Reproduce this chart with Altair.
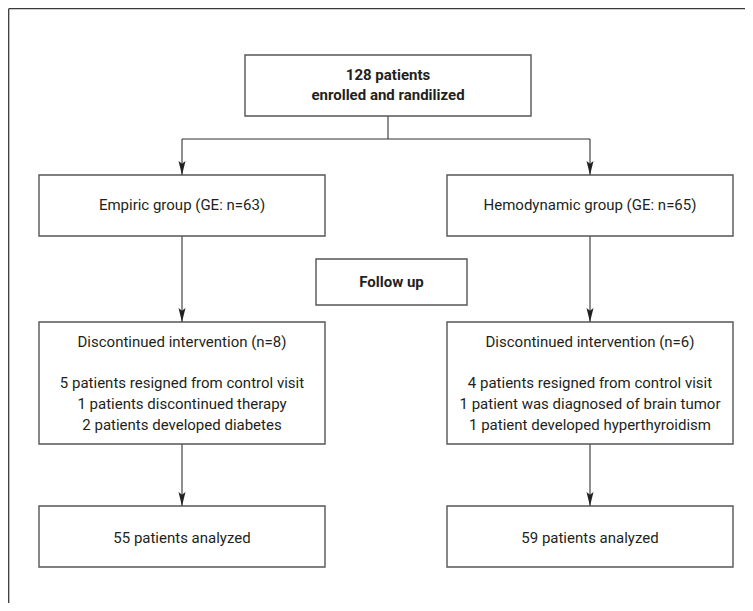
import altair as alt
import pandas as pd

# ---- content -------------------------------------------------------------
box_ids = ["top", "empiric", "hemo", "follow", "discL", "discR", "anaL", "anaR"]
box_lines = [
    ["128 patients", "enrolled and randilized"],
    ["Empiric group (GE: n=63)"],
    ["Hemodynamic group (GE: n=65)"],
    ["Follow up"],
    ["Discontinued intervention (n=8)", "", "5 patients resigned from control visit",
     "1 patients discontinued therapy", "2 patients developed diabetes"],
    ["Discontinued intervention (n=6)", "", "4 patients resigned from control visit",
     "1 patient was diagnosed of brain tumor", "1 patient developed hyperthyroidism"],
    ["55 patients analyzed"],
    ["59 patients analyzed"],
]
box_bold = [True, False, False, True, False, False, False, False]

# ---- layout (screen pixels) ----------------------------------------------
box_x1 = [245, 39, 447, 316, 39, 447, 39, 447]
box_x2 = [531, 325, 733, 467, 325, 733, 325, 733]
box_y1 = [55, 175, 175, 259, 322, 322, 506, 506]
box_y2 = [116, 236, 236, 305, 444, 444, 567, 567]
line_first_y = [75, 205, 205, 282, 342, 342, 538, 538]
line_step = [20, 0, 0, 0, 20.7, 20.7, 0, 0]

conn_x1 = [388, 182, 182, 590, 182, 590, 182, 590]
conn_x2 = [388, 590, 182, 590, 182, 590, 182, 590]
conn_y1 = [116, 139, 139, 139, 236, 236, 444, 444]
conn_y2 = [139, 139, 175, 175, 322, 322, 506, 506]

tip_x = [182, 590, 182, 590, 182, 590]
tip_y = [175, 175, 322, 322, 506, 506]

frame_x1 = [8.7, 8.7]
frame_x2 = [760, 8.7]
frame_y1 = [8.7, 8.7]
frame_y2 = [8.7, 620]

# ---- tables ---------------------------------------------------------------
boxes = pd.DataFrame({"id": box_ids, "x1": box_x1, "x2": box_x2,
                      "y1": box_y1, "y2": box_y2})
rows = []
for i, lines in enumerate(box_lines):
    cx = (box_x1[i] + box_x2[i]) / 2
    for j, t in enumerate(lines):
        if t:
            rows.append({"t": t, "x": cx, "y": line_first_y[i] + j * line_step[i],
                         "bold": box_bold[i]})
texts = pd.DataFrame(rows)
conns = pd.DataFrame({"x1": conn_x1, "x2": conn_x2, "y1": conn_y1, "y2": conn_y2})
tips = pd.DataFrame({"x": tip_x, "y": tip_y})
frame = pd.DataFrame({"x1": frame_x1, "x2": frame_x2, "y1": frame_y1, "y2": frame_y2})

PAD = 5
X0 = 8 + PAD
Y0 = 8 + PAD
W = 745 - X0
H = 603 - Y0
xs = alt.Scale(domain=[X0, X0 + W], nice=False, zero=False)
ys = alt.Scale(domain=[Y0 + H, Y0], nice=False, zero=False)

FONT = "Roboto"

base_x = dict(scale=xs, axis=None)
base_y = dict(scale=ys, axis=None)

frame_l = alt.Chart(frame).mark_rule(color="#3a3a3a", strokeWidth=1.3).encode(
    x=alt.X("x1:Q", **base_x), x2="x2:Q",
    y=alt.Y("y1:Q", **base_y), y2="y2:Q")

box_l = alt.Chart(boxes).mark_rect(fill="white", stroke="#555555", strokeWidth=1.4).encode(
    x=alt.X("x1:Q", **base_x), x2="x2:Q",
    y=alt.Y("y1:Q", **base_y), y2="y2:Q")

conn_l = alt.Chart(conns).mark_rule(color="#333333", strokeWidth=1.1).encode(
    x=alt.X("x1:Q", **base_x), x2="x2:Q",
    y=alt.Y("y1:Q", **base_y), y2="y2:Q")

tip_l = alt.Chart(tips).mark_point(
    shape="M0,0 L-0.5,-2 L0,-1.6 L0.5,-2 Z", size=196, filled=True,
    color="#222222", opacity=1, strokeWidth=0).encode(
    x=alt.X("x:Q", **base_x), y=alt.Y("y:Q", **base_y))

txt_n = alt.Chart(texts).transform_filter("!datum.bold").mark_text(
    font=FONT, fontSize=15, color="#231f20", align="center", baseline="middle").encode(
    x=alt.X("x:Q", **base_x), y=alt.Y("y:Q", **base_y), text="t:N")

txt_b = alt.Chart(texts).transform_filter("datum.bold").mark_text(
    font=FONT, fontSize=15, fontWeight="bold", color="#231f20", align="center",
    baseline="middle").encode(
    x=alt.X("x:Q", **base_x), y=alt.Y("y:Q", **base_y), text="t:N")

chart = alt.layer(frame_l, conn_l, box_l, tip_l, txt_n, txt_b).properties(
    width=W, height=H,
    padding={"left": PAD, "top": PAD, "right": 0, "bottom": 0},
    autosize=alt.AutoSizeParams(type="none"),
    background="white",
).configure_view(stroke=None, clip=False)

chart.save("out.html", embed_options={"renderer": "svg", "actions": False})
